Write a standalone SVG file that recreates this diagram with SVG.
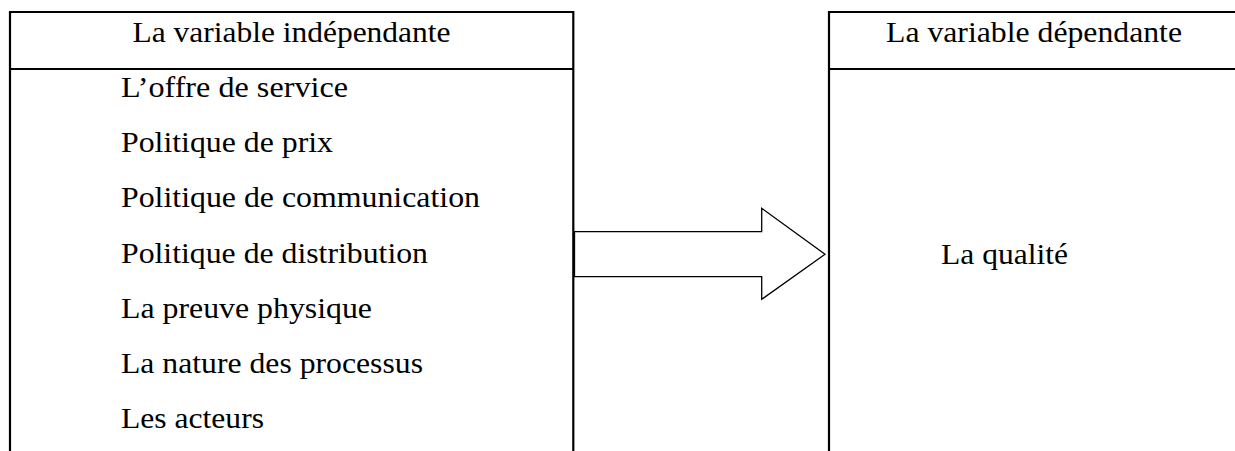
<svg xmlns="http://www.w3.org/2000/svg" width="1235" height="451" viewBox="0 0 1235 451">
  <style>
    .frame { fill: none; stroke: #000; stroke-width: 2.2; }
    .arrow { fill: #fff; stroke: #000; stroke-width: 1.3; stroke-linejoin: miter; }
    .txt { font-family: "Liberation Serif", "Times New Roman", serif; font-size: 28.5px; fill: #000; }
  </style>
  <rect width="1235" height="451" fill="#fff"/>

  <!-- Independent variable column -->
  <g id="independent">
    <path class="frame" d="M10,451 V12 H573.3 V451 M10,69 H573.3"/>
    <text class="txt" x="291.5" y="42" text-anchor="middle" textLength="318" lengthAdjust="spacingAndGlyphs">La variable indépendante</text>
    <text class="txt" x="121" y="97" textLength="227" lengthAdjust="spacingAndGlyphs">L’offre de service</text>
    <text class="txt" x="121" y="152.2" textLength="212" lengthAdjust="spacingAndGlyphs">Politique de prix</text>
    <text class="txt" x="121" y="207.4" textLength="359" lengthAdjust="spacingAndGlyphs">Politique de communication</text>
    <text class="txt" x="121" y="262.6" textLength="307" lengthAdjust="spacingAndGlyphs">Politique de distribution</text>
    <text class="txt" x="121" y="317.8" textLength="251" lengthAdjust="spacingAndGlyphs">La preuve physique</text>
    <text class="txt" x="121" y="373" textLength="302" lengthAdjust="spacingAndGlyphs">La nature des processus</text>
    <text class="txt" x="121" y="428.2" textLength="143" lengthAdjust="spacingAndGlyphs">Les acteurs</text>
  </g>

  <!-- Dependent variable column -->
  <g id="dependent">
    <path class="frame" d="M829,451 V12 H1240 M829,69 H1240"/>
    <text class="txt" x="886" y="42" textLength="296" lengthAdjust="spacingAndGlyphs">La variable dépendante</text>
    <text class="txt" x="941" y="264" textLength="127" lengthAdjust="spacingAndGlyphs">La qualité</text>
  </g>

  <!-- Block arrow linking the two columns -->
  <g id="connectors">
    <polygon class="arrow" points="574.5,231.7 761.7,231.7 761.7,208.3 825,254.3 761.7,299.3 761.7,276.7 574.5,276.7"/>
  </g>
</svg>
